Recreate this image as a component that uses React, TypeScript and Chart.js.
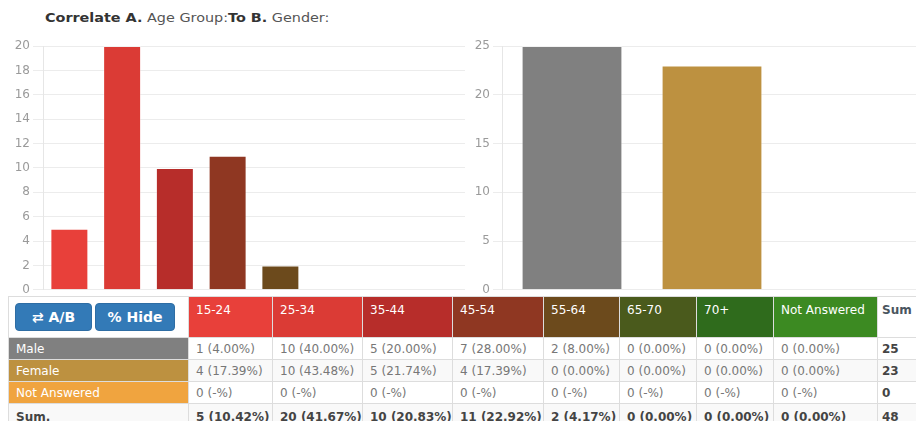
import React, { useEffect, useRef } from "react";
import { Chart, registerables } from "chart.js";

Chart.register(...registerables);

const ageGroups = ["15-24", "25-34", "35-44", "45-54", "55-64", "65-70", "70+", "Not Answered"];
const ageTotals = [5, 20, 10, 11, 2, 0, 0, 0];
const ageColors = ["#E8403A", "#DB3B35", "#B72D2A", "#8F3722", "#6C4A1C", "#4A5A1C", "#2F6B1C", "#3C8A22"];

const genders = ["Male", "Female", "Not Answered"];
const genderTotals = [25, 23, 0];
const genderColors = ["#808080", "#BD9140", "#F0A43F"];

const maleCounts = [1, 10, 5, 7, 2, 0, 0, 0];
const femaleCounts = [4, 10, 5, 4, 0, 0, 0, 0];
const notAnsweredCounts = [0, 0, 0, 0, 0, 0, 0, 0];
const grandTotal = 48;

const leftTicks = { max: 20, step: 2 };
const rightTicks = { max: 25, step: 5 };

const FONT = "'DejaVu Sans', 'Liberation Sans', sans-serif";

function makeChart(
  canvas: HTMLCanvasElement,
  labels: string[],
  values: number[],
  colors: string[],
  max: number,
  step: number,
  axisWidth: number,
  tickLen: number
) {
  return new Chart(canvas, {
    type: "bar",
    data: {
      labels,
      datasets: [
        {
          data: values,
          backgroundColor: colors,
          borderColor: "rgba(255,255,255,0.35)",
          borderWidth: 1,
        },
      ],
    },
    options: {
      responsive: false,
      animation: false,
      devicePixelRatio: 1,
      layout: { padding: { left: 0, right: 0, top: 46, bottom: 9 } },
      plugins: { legend: { display: false }, tooltip: { enabled: false } },
      scales: {
        x: { display: false },
        y: {
          min: 0,
          max,
          afterFit: (s: any) => {
            s.width = axisWidth;
          },
          ticks: {
            stepSize: step,
            color: "#9a9a9a",
            padding: 3,
            font: { family: FONT, size: 12 },
          },
          grid: { color: "#ececec", tickLength: tickLen, lineWidth: 1 },
          border: { color: "#e6e6e6" },
        },
      },
    },
  });
}

const fmtPct = (n: number, total: number) =>
  total > 0 ? `${n} (${((n / total) * 100).toFixed(2)}%)` : `${n} (-%)`;

export default function App() {
  const leftRef = useRef<HTMLCanvasElement>(null);
  const rightRef = useRef<HTMLCanvasElement>(null);

  useEffect(() => {
    const a = makeChart(leftRef.current!, ageGroups, ageTotals, ageColors, leftTicks.max, leftTicks.step, 43, 10);
    const b = makeChart(rightRef.current!, genders, genderTotals, genderColors, rightTicks.max, rightTicks.step, 36, 9);
    return () => {
      a.destroy();
      b.destroy();
    };
  }, []);

  const colWidths = [180, 84, 90, 90, 91, 76, 77, 77, 104, 60];
  const rows = [
    { label: genders[0], color: genderColors[0], counts: maleCounts, total: genderTotals[0] },
    { label: genders[1], color: genderColors[1], counts: femaleCounts, total: genderTotals[1] },
    { label: genders[2], color: genderColors[2], counts: notAnsweredCounts, total: genderTotals[2] },
  ];

  const cellBase: React.CSSProperties = {
    border: "1px solid #dddddd",
    padding: "0 7px",
    fontSize: 12,
    whiteSpace: "nowrap",
    overflow: "hidden",
    verticalAlign: "middle",
  };
  const sumCell: React.CSSProperties = { ...cellBase, paddingLeft: 4, color: "#444", fontWeight: "bold" };

  const btn: React.CSSProperties = {
    display: "inline-block",
    background: "#337AB7",
    border: "1px solid #2E6DA4",
    borderRadius: 4,
    color: "#fff",
    fontFamily: FONT,
    fontWeight: "bold",
    fontSize: 14,
    height: 28,
    lineHeight: "26px",
    textAlign: "center",
    boxSizing: "border-box",
  };

  return (
    <div
      style={{
        position: "fixed",
        left: 0,
        top: 0,
        width: 916,
        height: 421,
        overflow: "hidden",
        background: "#fff",
        fontFamily: FONT,
      }}
    >
      <div
        style={{
          position: "absolute",
          left: 45,
          top: 10,
          fontSize: 12.5,
          color: "#555",
          whiteSpace: "nowrap",
          transform: "scaleX(1.15)",
          transformOrigin: "left top",
        }}
      >
        <b style={{ color: "#333" }}>Correlate A.</b> Age Group:<b style={{ color: "#333" }}>To B.</b> Gender:
      </div>
      <canvas ref={leftRef} width={465} height={300} style={{ position: "absolute", left: 0, top: 0 }} />
      <canvas ref={rightRef} width={456} height={300} style={{ position: "absolute", left: 466, top: 0 }} />
      <table
        style={{
          position: "absolute",
          left: 8,
          top: 296,
          borderCollapse: "collapse",
          tableLayout: "fixed",
          width: colWidths.reduce((s, w) => s + w, 0),
          background: "#fff",
          fontFamily: FONT,
        }}
      >
        <colgroup>
          {colWidths.map((w, i) => (
            <col key={i} style={{ width: w }} />
          ))}
        </colgroup>
        <tbody>
          <tr style={{ height: 41 }}>
            <td style={{ ...cellBase, padding: "0 6px", verticalAlign: "middle" }}>
              <span style={{ ...btn, width: 77, marginRight: 3 }}>⇄ A/B</span>
              <span style={{ ...btn, width: 80 }}>% Hide</span>
            </td>
            {ageGroups.map((g, i) => (
              <td
                key={g}
                style={{
                  ...cellBase,
                  background: ageColors[i],
                  color: "#fff",
                  verticalAlign: "top",
                  paddingTop: 6,
                }}
              >
                {g}
              </td>
            ))}
            <td style={{ ...sumCell, color: "#4a5560", verticalAlign: "top", paddingTop: 6 }}>Sum</td>
          </tr>
          {rows.map((r, ri) => (
            <tr key={r.label} style={{ height: 22, background: ri === 1 ? "#f9f9f9" : "#fff" }}>
              <td style={{ ...cellBase, background: r.color, color: "#fff" }}>{r.label}</td>
              {r.counts.map((c, i) => (
                <td key={i} style={{ ...cellBase, color: "#777" }}>
                  {fmtPct(c, r.total)}
                </td>
              ))}
              <td style={sumCell}>{r.total}</td>
            </tr>
          ))}
          <tr style={{ height: 26, background: "#f9f9f9" }}>
            <td style={{ ...cellBase, color: "#444", fontWeight: "bold" }}>Sum.</td>
            {ageTotals.map((c, i) => (
              <td key={i} style={{ ...cellBase, color: "#444", fontWeight: "bold" }}>
                {fmtPct(c, grandTotal)}
              </td>
            ))}
            <td style={sumCell}>{grandTotal}</td>
          </tr>
        </tbody>
      </table>
    </div>
  );
}
